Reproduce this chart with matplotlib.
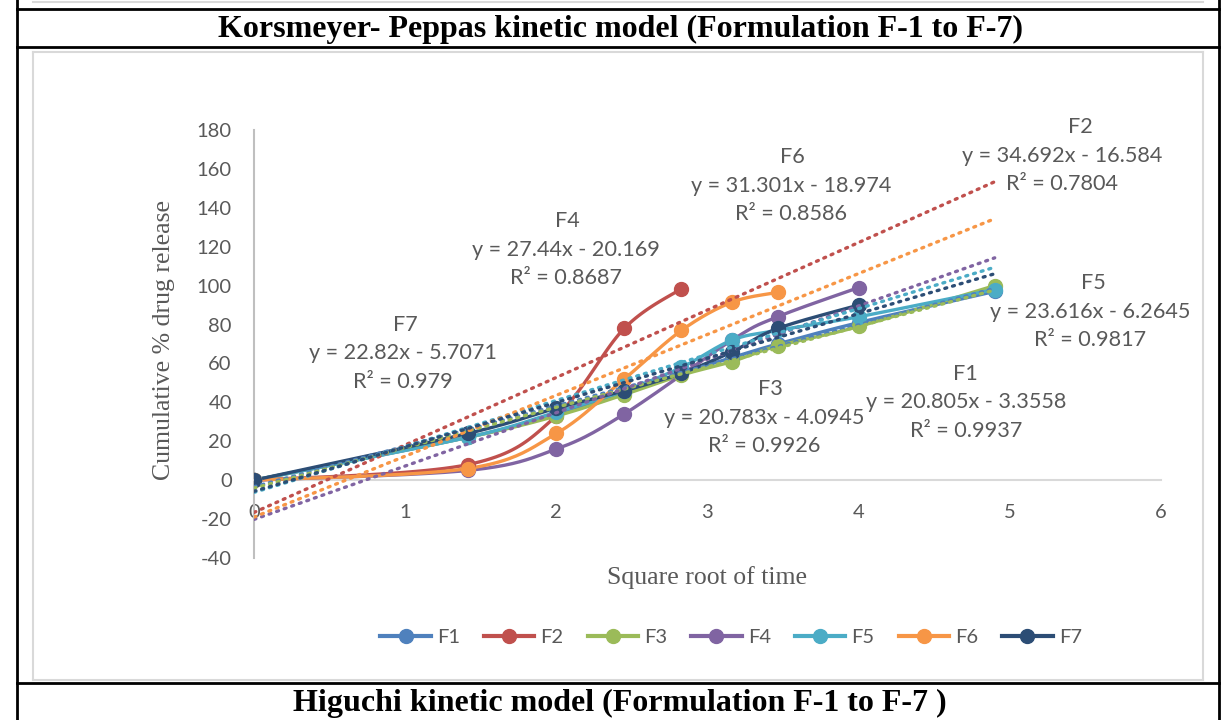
import numpy as np
import matplotlib
matplotlib.use("Agg")
import matplotlib.pyplot as plt
from matplotlib.lines import Line2D

plt.rcParams["axes.unicode_minus"] = False

# ---------------- data ----------------
series_names = ["F1", "F2", "F3", "F4", "F5", "F6", "F7"]
x_all = [0, 1.414, 2, 2.449, 2.828, 3.162, 3.464, 4, 4.899]
x_f4 = [0, 1.414, 2, 2.449, 3.162, 3.464, 4]

f1_x = x_all
f1_y = [0, 22, 34, 45, 55, 63, 70, 81, 97]
f2_x = x_all[:5]
f2_y = [0, 8, 33, 78, 98.5]
f3_x = x_all
f3_y = [0, 22, 33, 44, 54, 61, 69, 79, 100]
f4_x = x_f4
f4_y = [0, 5, 16, 34, 72, 84, 99]
f5_x = x_all
f5_y = [0, 22, 35, 46, 58, 72, 77, 84, 98]
f6_x = x_all[:7]
f6_y = [0, 6, 24, 52, 77, 91.5, 96.5]
f7_x = x_all[:8]
f7_y = [0, 24, 37, 46, 55, 66, 78, 90]

slopes = [20.805, 34.692, 20.783, 27.44, 23.616, 31.301, 22.82]
intercepts = [-3.3558, -16.584, -4.0945, -20.169, -6.2645, -18.974, -5.7071]
r2_labels = ["0.9937", "0.7804", "0.9926", "0.8687", "0.9817", "0.8586", "0.979"]
trend_x_end = 4.9

x_ticks = [0, 1, 2, 3, 4, 5, 6]
y_ticks = [-40, -20, 0, 20, 40, 60, 80, 100, 120, 140, 160, 180]

colors = ["#4F81BD", "#C0504D", "#9BBB59", "#8064A2", "#4BACC6", "#F79646", "#2C4D75"]

xs = [f1_x, f2_x, f3_x, f4_x, f5_x, f6_x, f7_x]
ys = [f1_y, f2_y, f3_y, f4_y, f5_y, f6_y, f7_y]

# ---------------- helpers ----------------
def smooth(x, y, n=24):
    pts = np.column_stack([x, y]).astype(float)
    out = [pts[0]]
    for i in range(len(pts) - 1):
        p0 = pts[i - 1] if i > 0 else pts[i]
        p1 = pts[i]
        p2 = pts[i + 1]
        p3 = pts[i + 2] if i + 2 < len(pts) else pts[i + 1]
        c1 = p1 + (p2 - p0) / 6.0
        c2 = p2 - (p3 - p1) / 6.0
        t = np.linspace(0, 1, n)[1:, None]
        b = (1 - t) ** 3 * p1 + 3 * (1 - t) ** 2 * t * c1 + 3 * (1 - t) * t ** 2 * c2 + t ** 3 * p2
        out.extend(b)
    out = np.array(out)
    return out[:, 0], out[:, 1]

W, H = 1223, 720
fig = plt.figure(figsize=(W / 100, H / 100), dpi=100)
fig.patch.set_facecolor("white")

def px2fig(x, y):
    return x / W, 1 - y / H

# ---------------- axes ----------------
ax_l, ax_r, ax_t, ax_b = 254, 1161, 130, 558
ax = fig.add_axes([ax_l / W, 1 - ax_b / H, (ax_r - ax_l) / W, (ax_b - ax_t) / H])
ax.set_xlim(0, 6)
ax.set_ylim(-40, 180)
ax.set_facecolor("none")
for s in ["top", "right"]:
    ax.spines[s].set_visible(False)
ax.spines["left"].set_color("#BFBFBF")
ax.spines["left"].set_linewidth(1.5)
ax.spines["bottom"].set_position(("data", 0))
ax.spines["bottom"].set_color("#D9D9D9")
ax.spines["bottom"].set_linewidth(1.5)
ax.set_xticks(x_ticks)
ax.set_yticks(y_ticks)
ax.tick_params(axis="both", length=0, labelsize=14.5, labelcolor="#595959")
ax.tick_params(axis="x", pad=17)
ax.tick_params(axis="y", pad=16)
for lab in ax.get_xticklabels() + ax.get_yticklabels():
    lab.set_fontfamily("Lato")

# series
for name, x, y, c in zip(series_names, xs, ys, colors):
    sx, sy = smooth(x, y)
    ax.plot(sx, sy, color=c, lw=2.4, solid_capstyle="round", zorder=3)
    ax.plot(x, y, "o", color=c, ms=10, zorder=4)

# trendlines
for m, b, c in zip(slopes, intercepts, colors):
    tx = np.array([0, trend_x_end])
    ax.plot(tx, m * tx + b, color=c, lw=2.4, linestyle=(0, (0.6, 1.8)),
            dash_capstyle="round", zorder=5)

# equation labels: (name x, equation x, top y)
label_pos = {
    "F1": (965, 966, 374),
    "F2": (1080, 1062, 127),
    "F3": (770, 764, 389),
    "F4": (567, 566, 221),
    "F5": (1093, 1090, 283),
    "F6": (792, 791, 157),
    "F7": (405, 403, 325),
}
for i, name in enumerate(series_names):
    m, b = slopes[i], intercepts[i]
    eq = f"y = {m:g}x - {abs(b):g}"
    lines = [name, eq, f"R² = {r2_labels[i]}"]
    nx, ex, cy = label_pos[name]
    for k, t in enumerate(lines):
        fx, fy = px2fig(nx if k == 0 else ex, cy + k * 28.5)
        fig.text(fx, fy, t, ha="center", va="center", fontsize=15.6,
                 color="#595959", family="Lato")

# axis titles
fx, fy = px2fig(707, 578)
fig.text(fx, fy, "Square root of time", ha="center", va="center",
         fontsize=18.5, color="#595959", family="Liberation Serif")
fx, fy = px2fig(164, 340)
fig.text(fx, fy, "Cumulative % drug release", ha="center", va="center",
         rotation=90, fontsize=18.5, color="#595959", family="Liberation Serif")

# legend
handles = [Line2D([0], [0], color=c, lw=3, marker="o", ms=10) for c in colors]
leg = fig.legend(handles, series_names, loc="center", ncol=7,
                 bbox_to_anchor=(px2fig(731, 637)), frameon=False,
                 prop={"family": "Lato", "size": 14.5}, handlelength=2.5,
                 columnspacing=1.2, handletextpad=0.3)
for t in leg.get_texts():
    t.set_color("#595959")

# ---------------- frame / table lines ----------------
def fline(x0, y0, x1, y1, color="black", lw=2.0):
    a = px2fig(x0, y0)
    b = px2fig(x1, y1)
    fig.add_artist(Line2D([a[0], b[0]], [a[1], b[1]], color=color, lw=lw,
                          transform=fig.transFigure))

# chart area border (gray)
fline(33, 52, 1203, 52, "#D9D9D9", 1.5)
fline(33, 680, 1203, 680, "#D9D9D9", 1.5)
fline(33, 52, 33, 680, "#D9D9D9", 1.5)
fline(1203, 52, 1203, 680, "#D9D9D9", 1.5)
fline(33, 2, 1203, 2, "#D9D9D9", 1.5)

# table borders (black)
fline(17, 9, 1219, 9, "black", 2.0)
fline(17, 47, 1219, 47, "black", 2.0)
fline(17, 683, 1219, 683, "black", 2.0)
fline(17, 0, 17, 720, "black", 2.0)
fline(1219, 0, 1219, 720, "black", 2.0)

# row titles
fx, fy = px2fig(620, 29)
fig.text(fx, fy, "Korsmeyer- Peppas kinetic model (Formulation F-1 to F-7)",
         ha="center", va="center", fontsize=23, fontweight="bold",
         family="Liberation Serif", color="black")
fx, fy = px2fig(620, 703)
fig.text(fx, fy, "Higuchi kinetic model (Formulation F-1 to F-7 )",
         ha="center", va="center", fontsize=23, fontweight="bold",
         family="Liberation Serif", color="black")

fig.savefig("out.png", dpi=100)
